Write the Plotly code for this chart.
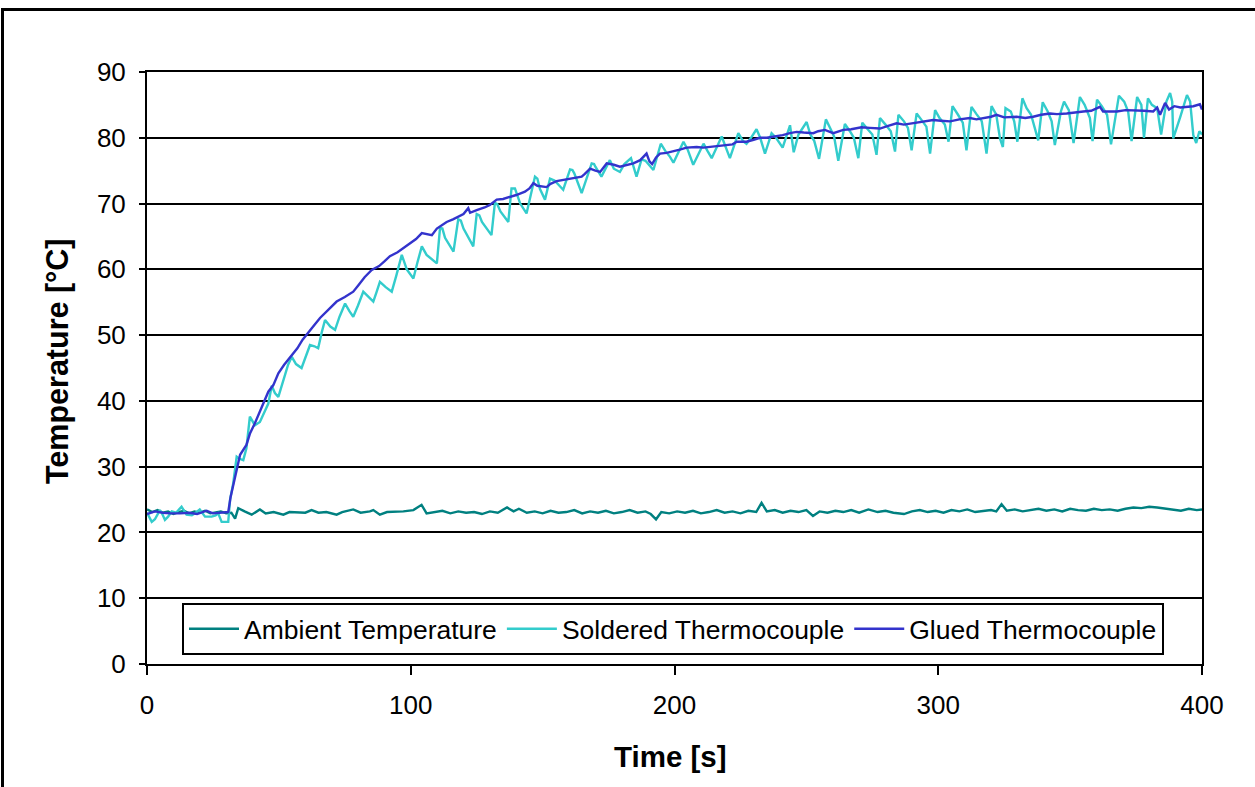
import plotly.graph_objects as go

# ---------------- data ----------------
amb_t = [0, 2, 4, 6, 8, 10, 12, 14, 16, 18, 20, 22, 24, 26, 28, 30, 32, 33.4, 34.6, 37, 39.7, 42.8, 45, 48,
         51.7, 54, 57, 60, 62.4, 65, 68, 71.9, 74, 78.2, 81, 84.5, 85.8, 88.3, 91, 94, 97.2, 101, 104.1, 106,
         109, 112, 115, 118, 121, 124, 127, 130, 133, 136.5, 139, 141, 144, 147, 150, 153, 156, 159, 162, 165,
         168, 171, 174, 177, 180, 183, 186, 189, 191, 193, 195, 198, 201, 204, 207, 210, 213, 216, 219, 222,
         225, 228, 231, 233, 235, 238, 241, 244, 247, 250, 252.5, 255, 258, 261, 264, 267, 270, 273.5, 277,
         280, 283, 287, 290, 293, 296, 299, 302, 305, 308, 311, 314, 317, 320, 322, 324, 326, 329, 332, 335,
         338, 341, 344, 347, 350, 353, 356, 359, 362, 365, 368, 371, 374, 377, 380, 383, 386, 389, 392, 395,
         398, 400]
amb_v = [23.5, 23.1, 23.4, 23.0, 23.2, 22.8, 23.1, 23.3, 22.9, 23.2, 23.0, 23.3, 22.9, 23.1, 23.2, 22.9, 23.0,
         22.1, 23.7, 23.2, 22.7, 23.5, 22.9, 23.1, 22.7, 23.1, 23.1, 23.0, 23.4, 23.0, 23.1, 22.7, 23.1, 23.5,
         23.0, 23.2, 23.4, 22.7, 23.1, 23.1, 23.2, 23.4, 24.2, 22.9, 23.1, 23.3, 22.9, 23.2, 23.0, 23.1, 22.8,
         23.2, 23.0, 23.8, 23.2, 23.6, 23.0, 23.2, 22.9, 23.3, 23.0, 23.1, 23.4, 22.9, 23.2, 23.0, 23.3, 22.9,
         23.1, 23.4, 23.0, 23.2, 22.8, 22.0, 23.1, 22.9, 23.2, 23.0, 23.3, 22.9, 23.1, 23.4, 23.0, 23.2, 22.9,
         23.3, 23.1, 24.5, 23.2, 23.4, 23.0, 23.3, 23.1, 23.4, 22.5, 23.2, 23.0, 23.3, 23.1, 23.4, 23.0, 23.5,
         23.1, 23.3, 23.0, 22.8, 23.2, 23.4, 23.1, 23.3, 23.0, 23.4, 23.2, 23.5, 23.1, 23.3, 23.4, 23.2, 24.3,
         23.3, 23.5, 23.2, 23.4, 23.6, 23.3, 23.5, 23.2, 23.6, 23.4, 23.3, 23.6, 23.4, 23.5, 23.3, 23.6, 23.8,
         23.7, 23.9, 23.8, 23.6, 23.5, 23.3, 23.6, 23.4, 23.5, 23.6]

sol_t = [0, 1, 1.8, 3, 4.9, 5.8, 6.8, 8, 9.4, 11, 13.1, 15, 17, 18.5, 20, 22, 24.5, 26, 27, 28.3, 30.8, 31.5,
         32.7, 34, 35, 36.5, 37.7, 39, 40.9, 42.8, 44.5, 46, 47.3, 48.5, 49.8, 51.7, 53.5, 54.9, 56.5, 58.6, 60,
         61.8, 63.5, 64.9, 66.3, 67.5, 69.5, 71.3, 73, 75.1, 76.8, 78.2, 80, 82, 84, 85.8, 87, 88.3, 90.5, 92.8,
         94.5, 96.6, 98.5, 101, 102.5, 104.2, 106, 108, 109.9, 111.1, 112, 113, 116.2, 118, 119, 120, 123.7, 125,
         126, 127, 130.6, 131.9, 132.8, 134, 137, 138.2, 139.5, 141.5, 143.9, 147.1, 148, 149, 150.9, 152.8,
         154.5, 157.8, 160.4, 161.3, 162, 164.8, 168.6, 169.5, 170, 172.3, 175.5, 177, 179.3, 181, 183.5, 185.6,
         187.5, 189, 192, 194.8, 196.5, 198.3, 199.6, 203.4, 205, 207.1, 211, 212.5, 214.1, 217.9, 219.5, 221,
         224.2, 226, 227.3, 229, 231.1, 232.5, 234.3, 236.8, 238.5, 241, 243.8, 245.2, 247, 250.1, 251.5, 253,
         254.8, 257.4, 259, 260.5, 262.1, 264.6, 266.5, 268, 269.7, 271.2, 273, 275, 276.6, 277.9, 280, 282,
         283.6, 284.9, 287, 288.5, 289.9, 291.8, 293.5, 295.5, 296.9, 298.8, 300.5, 302.5, 303.9, 305.4, 307.5,
         309.3, 310.7, 312.6, 314.5, 316.5, 318.3, 320.2, 322, 323.4, 324.5, 325.5, 327.5, 328.8, 330, 331.9,
         333.5, 335.2, 337.9, 339.6, 341.5, 343, 344.2, 346.5, 347.7, 349.5, 351.3, 353.7, 355.5, 357.5, 358.5,
         360.2, 362, 364, 365.5, 368.5, 370.5, 372, 373.3, 375.4, 377, 378, 379.5, 381, 383, 384.5, 386.5,
         387.9, 388.7, 389.1, 391.8, 394.3, 395.5, 396.7, 397.8, 399, 400]
sol_v = [23.0, 22.2, 21.6, 22.0, 23.4, 22.8, 21.9, 22.4, 23.2, 23.0, 23.9, 22.7, 22.6, 23.0, 23.5, 22.4, 22.4,
         22.6, 22.9, 21.6, 21.6, 25.0, 27.5, 31.5, 31.2, 31.0, 32.8, 37.6, 36.3, 36.8, 38.2, 39.6, 42.3, 41.2,
         40.6, 43.0, 45.5, 46.7, 45.6, 45.0, 46.5, 48.5, 48.3, 48.0, 50.5, 52.3, 51.3, 50.8, 52.8, 54.8, 53.6,
         52.8, 54.5, 56.6, 55.8, 55.1, 56.5, 58.1, 57.3, 56.6, 59.0, 62.2, 60.0, 58.6, 61.0, 63.5, 62.2, 61.5,
         60.9, 66.3, 66.2, 64.8, 62.7, 67.6, 67.4, 66.2, 63.5, 68.4, 68.2, 67.2, 65.2, 70.1, 69.9, 68.8, 67.2,
         72.3, 72.3, 70.0, 68.5, 74.1, 73.8, 72.2, 70.6, 73.8, 73.5, 72.1, 75.2, 75.1, 74.6, 71.6, 76.1, 76.0,
         75.6, 74.1, 76.6, 75.3, 74.8, 76.0, 76.9, 74.1, 76.7, 76.5, 75.1, 79.1, 78.0, 77.1, 76.2, 79.4, 78.2,
         75.9, 79.1, 78.0, 76.9, 80.2, 78.5, 76.9, 80.7, 79.5, 79.1, 80.0, 81.3, 80.0, 77.6, 80.7, 80.0, 78.5,
         81.9, 77.8, 80.5, 82.4, 80.5, 79.5, 76.8, 82.8, 81.5, 80.2, 76.5, 82.1, 81.0, 80.0, 76.9, 82.3, 81.4,
         80.5, 77.4, 83.0, 82.0, 81.0, 77.9, 83.5, 82.5, 81.5, 78.1, 83.7, 82.8, 81.7, 77.6, 84.2, 83.0, 82.0,
         79.4, 84.8, 83.5, 82.3, 78.1, 84.7, 83.6, 82.5, 77.6, 84.8, 83.5, 79.9, 78.6, 84.5, 84.0, 82.5, 79.4,
         86.0, 84.5, 83.5, 79.6, 85.4, 84.0, 82.5, 78.9, 84.0, 85.5, 84.2, 79.2, 86.2, 85.0, 83.0, 79.5, 85.8,
         84.8, 83.5, 79.0, 86.4, 85.5, 84.0, 79.5, 86.2, 85.0, 80.0, 86.0, 85.0, 84.5, 80.5, 85.5, 86.8, 85.5,
         79.9, 83.2, 86.5, 85.5, 80.4, 79.2, 81.0, 80.5]

glu_t = [0, 3, 6, 9, 12.5, 16, 19, 22.6, 25, 28, 30.8, 31.7, 34, 35.3, 37.7, 39, 40.9, 42.8, 44.7, 46, 47.9,
         49.8, 52, 54.9, 57, 59, 61.2, 63, 65.6, 68, 70, 71.9, 75, 78.2, 80, 82.5, 85.2, 88, 90, 92.1, 95, 97.5,
         99.7, 102, 104.2, 106, 108, 109.9, 112, 113.6, 116, 118, 120, 121.8, 122.5, 125, 128, 130, 132.6, 135,
         137.6, 140, 143.3, 145, 146.5, 148, 151.5, 153, 155.3, 158, 160.4, 164.8, 166, 168, 170, 171.8, 174.3,
         177, 179.3, 182, 184.4, 187, 189.4, 190.5, 191.5, 193, 194.5, 197, 199.6, 202, 204.6, 208.4, 211,
         213.5, 216, 219.8, 222, 223.6, 227.3, 230, 232.4, 235, 238.7, 241, 243.8, 246.3, 249, 252.6, 254.5,
         257, 260.2, 262, 264, 267, 270.9, 274, 277.9, 281, 284.2, 287, 290.5, 294, 298.1, 301, 304.5, 308, 312,
         314.5, 317.1, 320, 322.1, 325, 329.7, 333, 336, 339, 342.4, 345, 348.7, 352, 355, 358, 361.3, 362.5,
         365, 367.7, 371, 374, 378, 381.5, 383, 384.1, 386, 387.5, 389.5, 391.8, 394, 396.7, 399.2, 400]
glu_v = [22.8, 23.2, 23.0, 22.9, 22.9, 23.0, 22.8, 23.3, 22.9, 23.0, 23.1, 25.4, 29.5, 31.8, 33.3, 35.0, 36.6,
         38.4, 40.1, 41.4, 42.4, 44.2, 45.5, 46.9, 48.0, 49.3, 50.5, 51.3, 52.6, 53.5, 54.3, 55.1, 55.8, 56.6,
         57.5, 58.8, 59.9, 60.5, 61.2, 62.0, 62.6, 63.3, 64.0, 64.6, 65.5, 65.4, 65.2, 66.2, 66.7, 67.2, 67.6,
         68.0, 68.4, 69.3, 68.6, 69.0, 69.4, 69.8, 70.6, 70.7, 71.0, 71.3, 71.8, 72.3, 73.1, 72.7, 72.5, 73.0,
         73.4, 73.6, 73.8, 74.1, 74.5, 75.3, 75.0, 74.8, 76.1, 75.9, 75.6, 75.9, 76.1, 76.6, 77.6, 76.4, 76.0,
         77.0, 77.6, 77.7, 77.9, 78.2, 78.5, 78.6, 78.5, 78.6, 78.7, 78.8, 79.0, 79.4, 79.4, 79.7, 80.0, 80.0,
         80.2, 80.4, 80.7, 80.9, 80.8, 80.7, 81.0, 81.2, 80.7, 80.9, 81.2, 81.3, 81.6, 81.5, 81.4, 81.8, 82.2,
         82.0, 82.2, 82.5, 82.7, 82.6, 82.5, 82.8, 83.0, 82.8, 83.0, 83.2, 83.5, 83.1, 83.2, 83.0, 83.2, 83.5,
         83.7, 83.6, 83.7, 83.9, 84.0, 84.1, 84.7, 84.0, 84.0, 84.0, 84.2, 84.2, 84.1, 84.0, 84.6, 83.5, 85.3,
         84.3, 84.8, 84.6, 84.7, 84.8, 85.1, 84.3]

names = ["Ambient Temperature", "Soldered Thermocouple", "Glued Thermocouple"]
colors = ["#008080", "#33CCCC", "#3333CC"]
x_ticks = [0, 100, 200, 300, 400]
y_ticks = [0, 10, 20, 30, 40, 50, 60, 70, 80, 90]
x_title = "Time [s]"
y_title = "Temperature [°C]"

# ---------------- layout geometry (pixels) ----------------
W, H = 1255, 787
L, R, T, B = 147, 1202, 72, 664
pw, ph = R - L, B - T


def px(x):
    return (x - L) / pw


def py(y):
    return (B - y) / ph


FONT = "Liberation Sans, Arial, sans-serif"

fig = go.Figure()
for (t, v), name, col in zip([(amb_t, amb_v), (sol_t, sol_v), (glu_t, glu_v)], names, colors):
    fig.add_trace(go.Scatter(x=t, y=v, mode="lines", name=name,
                             line=dict(color=col, width=2.4)))

fig.update_layout(
    width=W, height=H,
    margin=dict(l=L, r=W - R, t=T, b=H - B, pad=0),
    paper_bgcolor="white", plot_bgcolor="white",
    font=dict(family=FONT, size=26, color="black"),
    showlegend=True,
    legend=dict(orientation="h", x=px(182), y=py(603), xanchor="left", yanchor="top",
                bgcolor="white", bordercolor="black", borderwidth=2,
                font=dict(size=26.5), itemwidth=50, tracegroupgap=0),
    xaxis=dict(range=[0, 400], tickvals=x_ticks, ticks="outside", ticklen=9, tickwidth=2,
               tickcolor="black", showline=True, linecolor="black", linewidth=2, mirror=True,
               showgrid=False, zeroline=False, ticklabelstandoff=8),
    yaxis=dict(range=[0, 90], tickvals=y_ticks, ticks="outside", ticklen=6, tickwidth=2,
               tickcolor="black", showline=True, linecolor="black", linewidth=2, mirror=True,
               showgrid=True, gridcolor="black", gridwidth=2, zeroline=False, ticklabelstandoff=8),
    annotations=[
        dict(text="<b>" + x_title + "</b>", x=px(670), y=py(756), xref="paper", yref="paper",
             showarrow=False, font=dict(size=29.5), xanchor="center", yanchor="middle"),
        dict(text="<b>" + y_title + "</b>", x=px(57), y=py(361), xref="paper", yref="paper",
             showarrow=False, font=dict(size=30.5), textangle=-90, xanchor="center", yanchor="middle"),
    ],
    shapes=[
        dict(type="rect", xref="paper", yref="paper", x0=px(2.5), y0=py(830), x1=px(1300), y1=py(9.5),
             line=dict(color="black", width=3), fillcolor="rgba(0,0,0,0)", layer="above"),
    ],
)

fig.write_html("out.html")
